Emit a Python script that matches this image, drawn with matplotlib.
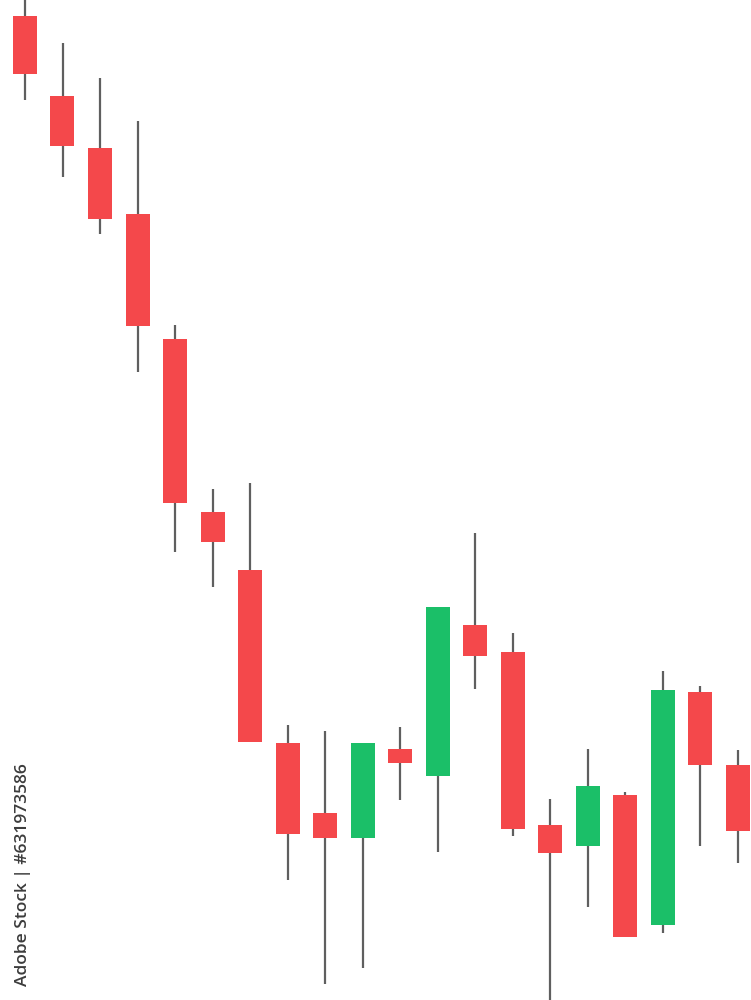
import numpy as np
import matplotlib.pyplot as plt

# OHLC values (arbitrary price units)
opens  = [98.4, 90.4, 85.2, 78.6, 66.1, 48.8, 43.0, 25.7, 18.7, 16.2,
          25.1, 22.4, 37.5, 34.8, 17.5, 15.4, 20.5, 7.5, 30.8, 23.5]
highs  = [101.5, 95.7, 92.2, 87.9, 67.5, 51.1, 51.7, 27.5, 26.9, 25.7,
          27.3, 39.3, 46.7, 36.7, 20.1, 25.1, 20.8, 32.9, 31.4, 25.0]
lows   = [90.0, 82.3, 76.6, 62.8, 44.8, 41.3, 25.8, 12.0, 1.6, 3.2,
          20.0, 14.8, 31.1, 16.4, -1.0, 9.3, 6.3, 6.7, 15.4, 13.7]
closes = [92.6, 85.4, 78.1, 67.4, 49.7, 45.8, 25.8, 16.6, 16.2, 25.7,
          23.7, 39.3, 34.4, 17.1, 14.7, 21.4, 6.3, 31.0, 23.5, 16.9]

up_color = '#1bbf68'
down_color = '#f4484b'
wick_color = '#5f5f5f'

opens = np.array(opens)
closes = np.array(closes)
x = np.arange(len(opens))
colors = [up_color if c > o else down_color for o, c in zip(opens, closes)]

fig = plt.figure(figsize=(7.51, 10), dpi=100)
ax = fig.add_axes([0, 0, 1, 1])

# wicks first, bodies on top
ax.vlines(x, lows, highs, color=wick_color, linewidth=1.6, zorder=1)
ax.bar(x, np.abs(closes - opens), bottom=np.minimum(opens, closes),
       width=0.64, color=colors, zorder=2)

ax.set_xlim(-25 / 37.5, 19 + 13.5 / 37.5)
ax.set_ylim(0, 100)
ax.axis('off')

fig.text(0.03, 0.125, 'Adobe Stock | #631973586', rotation=90,
         fontsize=12.5, fontweight='semibold', color='#3c3c3c',
         family='Open Sans', ha='center', va='center')

fig.savefig('out.png', dpi=100, facecolor='white')
